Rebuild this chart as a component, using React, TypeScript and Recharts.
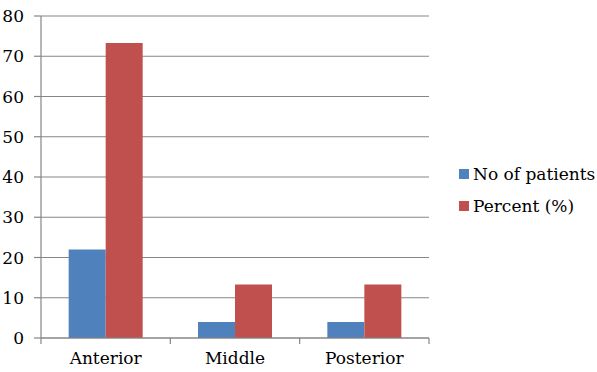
import { Bar, BarChart, CartesianGrid, Legend, XAxis, YAxis } from "recharts";

const categories = ["Anterior", "Middle", "Posterior"];
const patients = [22, 4, 4];
const percent = [73.3, 13.3, 13.3];
const yTicks = [0, 10, 20, 30, 40, 50, 60, 70, 80];

const data = categories.map((name, i) => ({
  name,
  patients: patients[i],
  percent: percent[i],
}));

// only serif face available here
const FONT = "DejaVu Serif, serif";
const FS = 17;
const AXIS = "#868686";
const BW = 388 / 3; // band width of one category

function CategoryTick(props: any) {
  const { x, y, payload, index, visibleTicksCount } = props;
  const left = x - BW / 2;
  return (
    <g>
      <line x1={left} y1={y} x2={left} y2={y + 6} stroke={AXIS} strokeWidth={1.2} />
      {index === visibleTicksCount - 1 && (
        <line x1={x + BW / 2} y1={y} x2={x + BW / 2} y2={y + 6} stroke={AXIS} strokeWidth={1.2} />
      )}
      <text x={x} y={y + 26} textAnchor="middle" style={{ fontSize: FS, fontFamily: FONT }} fill="#000">
        {payload.value}
      </text>
    </g>
  );
}

function YTick(props: any) {
  const { x, y, payload } = props;
  return (
    <text x={x} y={y} dy={6} textAnchor="end" style={{ fontSize: FS, fontFamily: FONT }} fill="#000">
      {payload.value}
    </text>
  );
}

function LegendBox({ payload }: any) {
  return (
    <div style={{ fontFamily: FONT, fontSize: FS, color: "#000" }}>
      {(payload || []).map((p: any) => (
        <div key={p.value} style={{ display: "flex", alignItems: "center", height: 32 }}>
          <span style={{ width: 10, height: 10, background: p.color, marginRight: 4 }} />
          <span>{p.value}</span>
        </div>
      ))}
    </div>
  );
}

export default function App() {
  return (
    <div style={{ position: "absolute", left: 0, top: 0, width: 597, height: 372, background: "#fff" }}>
      <BarChart
        width={597}
        height={372}
        data={data}
        margin={{ top: 16, right: 168, left: 0, bottom: 0 }}
        barCategoryGap="21.4%"
        barGap={0}
      >
        <CartesianGrid vertical={false} stroke={AXIS} strokeWidth={1.2} />
        <XAxis
          dataKey="name"
          height={34}
          tickSize={0}
          tickMargin={0}
          tickLine={false}
          axisLine={{ stroke: AXIS, strokeWidth: 1.2 }}
          tick={<CategoryTick />}
          interval={0}
        />
        <YAxis
          width={41}
          domain={[0, 80]}
          ticks={yTicks}
          interval={0}
          tickSize={7}
          tickMargin={10}
          axisLine={{ stroke: AXIS, strokeWidth: 1.2 }}
          tickLine={{ stroke: AXIS, strokeWidth: 1.2 }}
          tick={<YTick />}
        />
        <Legend
          layout="vertical"
          align="center"
          verticalAlign="middle"
          content={<LegendBox />}
          wrapperStyle={{ left: 459, top: 158, width: 138, height: 64 }}
        />
        <Bar dataKey="patients" name="No of patients" fill="#4F81BD" isAnimationActive={false} />
        <Bar dataKey="percent" name="Percent (%)" fill="#C0504D" isAnimationActive={false} />
      </BarChart>
    </div>
  );
}
